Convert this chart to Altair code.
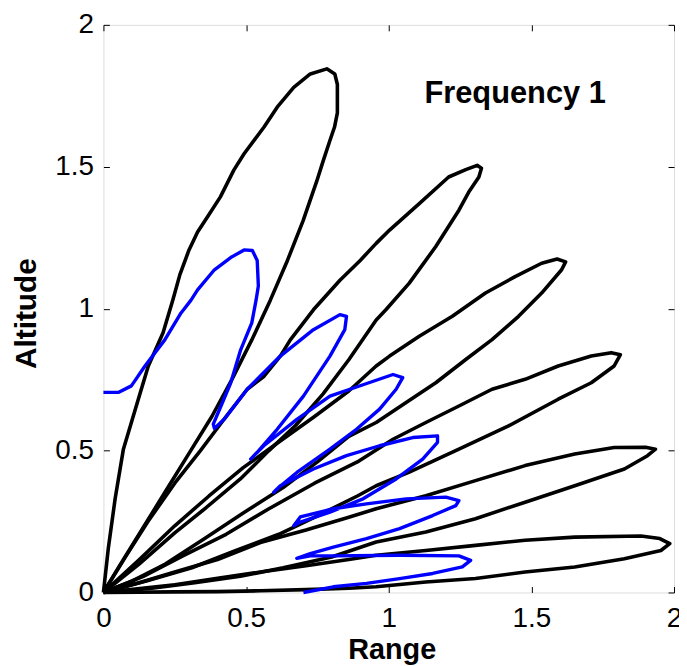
import altair as alt
import pandas as pd

# ---- data ----
tick_values = [0, 0.5, 1, 1.5, 2]

lobe1_x = [0, 0.017, 0.041, 0.07, 0.122, 0.157, 0.209, 0.243, 0.268, 0.3, 0.33, 0.365, 0.41, 0.457, 0.493,
           0.563, 0.609, 0.667, 0.725, 0.783, 0.811, 0.82, 0.82, 0.81, 0.793, 0.77, 0.748, 0.70, 0.645, 0.585,
           0.52, 0.45, 0.38, 0.30, 0.22, 0.14, 0.06, 0]
lobe1_y = [0, 0.155, 0.33, 0.505, 0.68, 0.797, 0.915, 1.03, 1.12, 1.207, 1.27, 1.324, 1.394, 1.488, 1.546,
           1.64, 1.71, 1.78, 1.827, 1.845, 1.827, 1.79, 1.69, 1.64, 1.59, 1.52, 1.45, 1.31, 1.17, 1.03,
           0.89, 0.75, 0.62, 0.49, 0.36, 0.23, 0.10, 0]

lobe2_x = [0, 0.08, 0.156, 0.25, 0.34, 0.43, 0.504, 0.563, 0.62, 0.655, 0.736, 0.829, 0.9, 0.956, 1.003,
           1.107, 1.21, 1.27, 1.31, 1.325, 1.316, 1.28, 1.246, 1.165, 1.072, 0.99, 0.956, 0.86, 0.77, 0.675,
           0.58, 0.48, 0.355, 0.25, 0.125, 0]
lobe2_y = [0, 0.13, 0.25, 0.385, 0.50, 0.62, 0.716, 0.762, 0.833, 0.89, 0.996, 1.10, 1.17, 1.23, 1.277,
           1.37, 1.464, 1.49, 1.505, 1.495, 1.464, 1.41, 1.347, 1.219, 1.09, 0.996, 0.96, 0.82, 0.70, 0.59,
           0.50, 0.40, 0.295, 0.21, 0.10, 0]

lobe3_x = [0, 0.125, 0.25, 0.37, 0.49, 0.615, 0.74, 0.86, 0.956, 1.003, 1.107, 1.223, 1.339, 1.443, 1.536,
           1.59, 1.62, 1.606, 1.536, 1.455, 1.362, 1.27, 1.165, 1.061, 0.956, 0.86, 0.75, 0.63, 0.49, 0.355,
           0.217, 0.1, 0]
lobe3_y = [0, 0.115, 0.235, 0.34, 0.44, 0.53, 0.62, 0.71, 0.798, 0.833, 0.903, 0.973, 1.055, 1.113, 1.16,
           1.175, 1.165, 1.137, 1.055, 0.973, 0.891, 0.821, 0.739, 0.669, 0.599, 0.55, 0.46, 0.37, 0.28, 0.19,
           0.10, 0.04, 0]

lobe4_x = [0, 0.14, 0.28, 0.43, 0.58, 0.74, 0.89, 1.015, 1.13, 1.246, 1.362, 1.478, 1.594, 1.71, 1.78,
           1.812, 1.79, 1.71, 1.594, 1.42, 1.246, 1.072, 0.956, 0.89, 0.75, 0.615, 0.46, 0.31, 0.156, 0]
lobe4_y = [0, 0.057, 0.13, 0.205, 0.295, 0.385, 0.46, 0.54, 0.599, 0.657, 0.716, 0.751, 0.798, 0.833, 0.845,
           0.838, 0.798, 0.739, 0.681, 0.587, 0.505, 0.424, 0.376, 0.34, 0.27, 0.205, 0.146, 0.087, 0.042, 0]

lobe5_x = [0, 0.125, 0.25, 0.40, 0.55, 0.71, 0.86, 0.956, 1.13, 1.304, 1.478, 1.652, 1.79, 1.9, 1.935,
           1.907, 1.826, 1.652, 1.478, 1.304, 1.13, 0.956, 0.80, 0.63, 0.48, 0.32, 0.17, 0]
lobe5_y = [0, 0.034, 0.072, 0.116, 0.176, 0.22, 0.265, 0.295, 0.341, 0.394, 0.447, 0.488, 0.511, 0.512, 0.505,
           0.482, 0.435, 0.376, 0.318, 0.26, 0.213, 0.178, 0.125, 0.087, 0.057, 0.034, 0.015, 0]

lobe6_x = [0, 0.095, 0.25, 0.40, 0.55, 0.71, 0.86, 0.956, 1.13, 1.304, 1.478, 1.652, 1.884, 1.95, 1.985,
           1.954, 1.826, 1.652, 1.478, 1.304, 1.13, 0.956, 0.86, 0.71, 0.55, 0.40, 0.25, 0]
lobe6_y = [0, 0.01, 0.027, 0.05, 0.072, 0.094, 0.116, 0.131, 0.148, 0.166, 0.184, 0.195, 0.199, 0.19, 0.172,
           0.148, 0.119, 0.09, 0.072, 0.049, 0.037, 0.02, 0.015, 0.01, 0.006, 0.003, 0.002, 0]

blue_x = [0, 0.052, 0.098, 0.145, 0.215, 0.272, 0.307, 0.33, 0.389, 0.446, 0.493, 0.522, 0.539, 0.543, 0.535,
          0.52, 0.481, 0.446, 0.412, 0.385, 0.389,
          0.423, 0.504, 0.62, 0.736, 0.829, 0.852, 0.846, 0.794, 0.701, 0.609, 0.539, 0.516,
          0.562, 0.678, 0.794, 0.91, 1.015, 1.049, 1.026, 0.968, 0.887, 0.794, 0.678, 0.609, 0.597,
          0.62, 0.736, 0.852, 0.968, 1.084, 1.171, 1.171, 1.119, 1.026, 0.91, 0.794, 0.69, 0.667,
          0.69, 0.806, 0.922, 1.061, 1.2, 1.246, 1.235, 1.154, 1.038, 0.922, 0.806, 0.725, 0.678,
          0.725, 0.806, 1.038, 1.246, 1.287, 1.258, 1.154, 1.038, 0.922, 0.806, 0.701]
blue_y = [0.705, 0.705, 0.728, 0.797, 0.89, 0.985, 1.03, 1.066, 1.137, 1.18, 1.207, 1.205, 1.17, 1.08, 1.03,
          0.95, 0.855, 0.738, 0.657, 0.593, 0.578,
          0.61, 0.716, 0.833, 0.926, 0.979, 0.973, 0.926, 0.833, 0.692, 0.575, 0.494, 0.47,
          0.517, 0.61, 0.692, 0.732, 0.768, 0.757, 0.716, 0.646, 0.575, 0.505, 0.423, 0.365, 0.353,
          0.376, 0.435, 0.482, 0.517, 0.546, 0.552, 0.529, 0.47, 0.40, 0.33, 0.283, 0.248, 0.235,
          0.266, 0.295, 0.312, 0.33, 0.336, 0.324, 0.306, 0.271, 0.225, 0.19, 0.16, 0.137, 0.12,
          0.129, 0.129, 0.131, 0.129, 0.113, 0.09, 0.067, 0.049, 0.032, 0.02, 0.0]

label_x = [1.125]
label_y = [1.723]
label_text = ["Frequency 1"]

# ---- tables ----
frames = []
for k, (xs, ys) in enumerate([(lobe1_x, lobe1_y), (lobe2_x, lobe2_y), (lobe3_x, lobe3_y),
                              (lobe4_x, lobe4_y), (lobe5_x, lobe5_y), (lobe6_x, lobe6_y)]):
    frames.append(pd.DataFrame({"x": xs, "y": ys, "lobe": k + 1, "i": range(len(xs))}))
black_df = pd.concat(frames, ignore_index=True)
blue_df = pd.DataFrame({"x": blue_x, "y": blue_y, "i": range(len(blue_x))})
label_df = pd.DataFrame({"x": label_x, "y": label_y, "t": label_text})

FONT = "Liberation Sans"
xs_ = alt.Scale(domain=[0, 2], nice=False, zero=False)
ys_ = alt.Scale(domain=[0, 2], nice=False, zero=False)


def tick_axis(orient):
    return alt.Axis(orient=orient, offset=-6, values=tick_values, labels=False, domain=False,
                    ticks=True, tickSize=6, tickColor="black", tickWidth=1, grid=False, title=None)


black = alt.Chart(black_df).mark_line(color="black", strokeWidth=3.6, strokeJoin="round").encode(
    x=alt.X("x:Q", scale=xs_, axis=alt.Axis(
        orient="bottom", values=tick_values, format="~g", labelFlush=False, labelOverlap=False,
        labelFont=FONT, labelFontSize=28, labelColor="black", labelPadding=12,
        ticks=False, tickSize=0, domain=False, grid=False,
        title="Range", titleFont=FONT, titleFontSize=29, titleFontWeight="bold", titleColor="black",
        titleBaseline="alphabetic", titleY=66, titleX=290)),
    y=alt.Y("y:Q", scale=ys_, axis=alt.Axis(
        orient="left", values=tick_values, format="~g", labelFlush=False, labelOverlap=False,
        labelFont=FONT, labelFontSize=28, labelColor="black", labelPadding=10,
        ticks=False, tickSize=0, domain=False, grid=False,
        title="Altitude", titleFont=FONT, titleFontSize=30, titleFontWeight="bold", titleColor="black",
        titleAngle=270, titleBaseline="alphabetic", titleX=-68, titleY=290)),
    detail="lobe:N",
    order="i:Q",
)

blue = alt.Chart(blue_df).mark_line(color="#0000ff", strokeWidth=3.4, strokeJoin="round").encode(
    x=alt.X("x:Q", scale=xs_, axis=tick_axis("bottom")),
    y=alt.Y("y:Q", scale=ys_, axis=tick_axis("left")),
    order="i:Q",
)

label = alt.Chart(label_df).mark_text(
    align="left", baseline="alphabetic", font=FONT, fontSize=31, fontWeight="bold", color="black"
).encode(
    x=alt.X("x:Q", scale=xs_, axis=tick_axis("top")),
    y=alt.Y("y:Q", scale=ys_, axis=tick_axis("right")),
    text="t:N",
)

chart = alt.layer(black, blue, label).resolve_axis(x="independent", y="independent").properties(
    width=574, height=571,
    autosize=alt.AutoSizeParams(type="none"),
    padding={"left": 96, "top": 15, "right": 5, "bottom": 72},
).configure_view(stroke="black", strokeWidth=1).configure(background="white")

chart.save("out.html", embed_options={"renderer": "svg", "actions": False})
